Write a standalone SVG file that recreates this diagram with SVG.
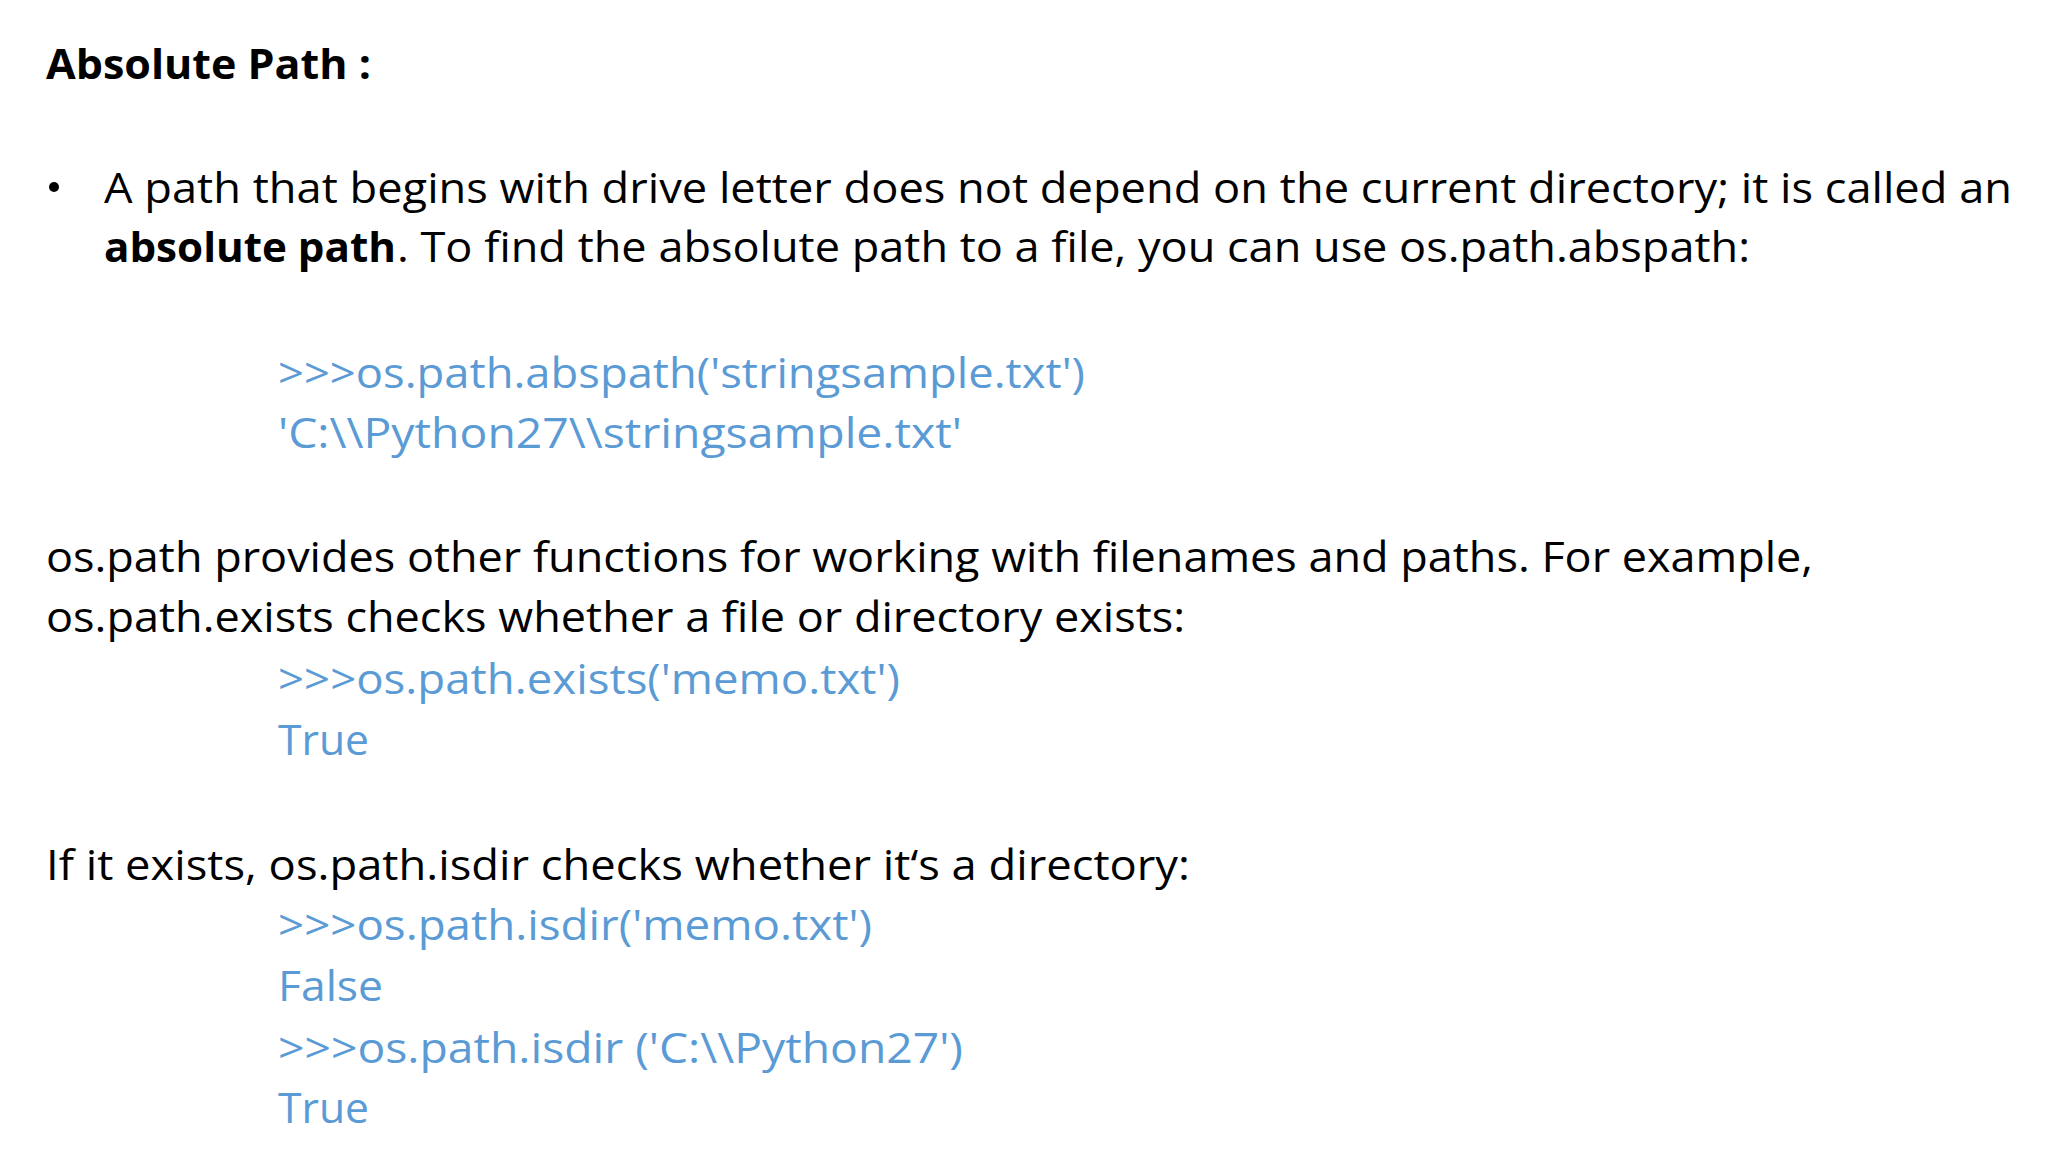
<svg xmlns="http://www.w3.org/2000/svg" width="2048" height="1152" viewBox="0 0 2048 1152">
<style>
text{font-family:"Open Sans","Liberation Sans",sans-serif;font-size:42px;fill:#000}
.b{font-weight:bold}
.c{fill:#5B9BD5}
</style>
<rect width="2048" height="1152" fill="#fff"/>
<g id="title"><text class="b" x="46" y="79" textLength="325" lengthAdjust="spacingAndGlyphs">Absolute Path :</text></g>
<g id="bullet">
<circle cx="54" cy="187" r="5" fill="#000"/>
<text x="104" y="203" textLength="1908" lengthAdjust="spacingAndGlyphs">A path that begins with drive letter does not depend on the current directory; it is called an</text>
<text class="b" x="104" y="262" textLength="292" lengthAdjust="spacingAndGlyphs">absolute path</text>
<text x="397" y="262" textLength="1353" lengthAdjust="spacingAndGlyphs">. To find the absolute path to a file, you can use os.path.abspath:</text>
</g>
<g id="code1">
<text class="c" x="278" y="388" textLength="807" lengthAdjust="spacingAndGlyphs">&gt;&gt;&gt;os.path.abspath('stringsample.txt')</text>
<text class="c" x="278" y="448" textLength="684" lengthAdjust="spacingAndGlyphs">'C:\\Python27\\stringsample.txt'</text>
</g>
<g id="para1">
<text x="46" y="572" textLength="1767" lengthAdjust="spacingAndGlyphs">os.path provides other functions for working with filenames and paths. For example,</text>
<text x="46" y="632" textLength="1139" lengthAdjust="spacingAndGlyphs">os.path.exists checks whether a file or directory exists:</text>
</g>
<g id="code2">
<text class="c" x="278" y="694" textLength="622" lengthAdjust="spacingAndGlyphs">&gt;&gt;&gt;os.path.exists('memo.txt')</text>
<text class="c" x="278" y="755" textLength="91" lengthAdjust="spacingAndGlyphs">True</text>
</g>
<g id="para2">
<text x="46" y="880" textLength="1144" lengthAdjust="spacingAndGlyphs">If it exists, os.path.isdir checks whether it‘s a directory:</text>
</g>
<g id="code3">
<text class="c" x="278" y="940" textLength="594" lengthAdjust="spacingAndGlyphs">&gt;&gt;&gt;os.path.isdir('memo.txt')</text>
<text class="c" x="278" y="1001" textLength="105" lengthAdjust="spacingAndGlyphs">False</text>
<text class="c" x="278" y="1063" textLength="685" lengthAdjust="spacingAndGlyphs">&gt;&gt;&gt;os.path.isdir ('C:\\Python27')</text>
<text class="c" x="278" y="1123" textLength="91" lengthAdjust="spacingAndGlyphs">True</text>
</g>
</svg>
